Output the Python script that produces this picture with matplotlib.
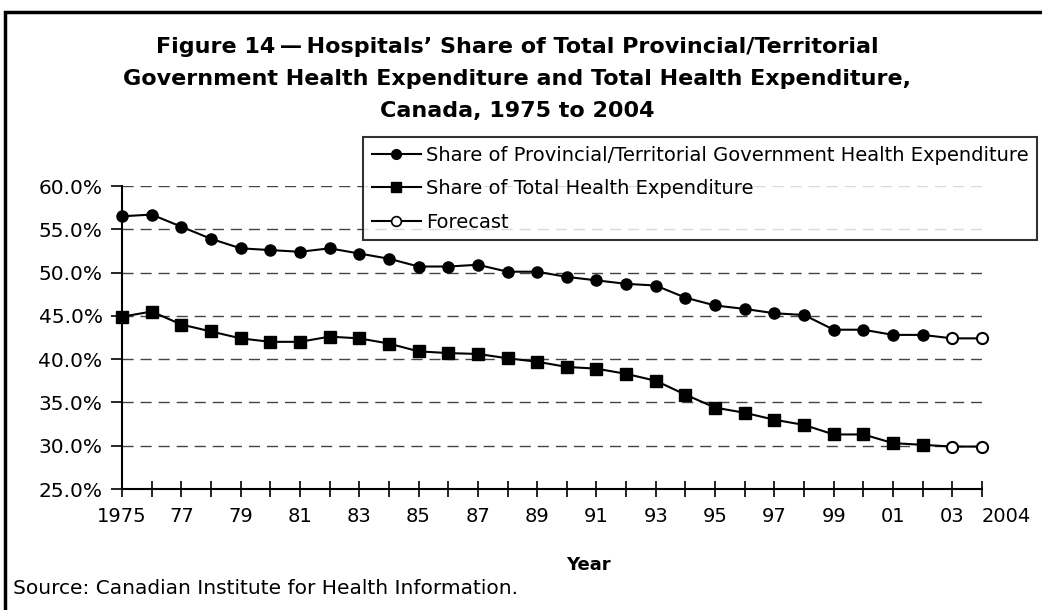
import numpy as np
import matplotlib
matplotlib.use("Agg")
import matplotlib.pyplot as plt
import matplotlib.transforms as mtransforms
from matplotlib.patches import Rectangle
from matplotlib.lines import Line2D
from matplotlib.ticker import FuncFormatter

plt.rcParams['font.family'] = ['DejaVu Sans']

years = list(range(1975, 2005))
provincial = [56.5, 56.7, 55.3, 53.9, 52.8, 52.6, 52.4, 52.8, 52.2, 51.6,
              50.7, 50.7, 50.9, 50.1, 50.1, 49.5, 49.1, 48.7, 48.5, 47.1,
              46.2, 45.8, 45.3, 45.1, 43.4, 43.4, 42.8, 42.8, 42.4, 42.4]
total = [44.9, 45.5, 44.0, 43.2, 42.4, 42.0, 42.0, 42.6, 42.4, 41.8,
         40.9, 40.7, 40.6, 40.1, 39.7, 39.1, 38.9, 38.3, 37.5, 35.9,
         34.4, 33.8, 33.0, 32.4, 31.3, 31.3, 30.3, 30.1, 29.9, 29.9]
forecast_years = [2003, 2004]

labels = ["Share of Provincial/Territorial Government Health Expenditure",
          "Share of Total Health Expenditure",
          "Forecast"]
title = ("Figure 14\u2009\u2014\u2009Hospitals\u2019 Share of Total Provincial/Territorial\n"
         "Government Health Expenditure and Total Health Expenditure,\n"
         "Canada, 1975 to 2004")

W, H = 1042, 610
fig = plt.figure(figsize=(W / 100, H / 100), dpi=100)
ax = fig.add_axes([122 / W, 1 - 489 / H, (982 - 122) / W, (489 - 186) / H])

n_hist = len(years) - len(forecast_years)
ax.plot(years, provincial, color='black', lw=1.5, zorder=3, clip_on=False)
ax.plot(years[:n_hist], provincial[:n_hist], 'o', color='black', ms=8, zorder=4, clip_on=False)
ax.plot(years[n_hist:], provincial[n_hist:], 'o', mfc='white', mec='black', mew=1.5, ms=8, zorder=4, clip_on=False)

ax.plot(years, total, color='black', lw=1.5, zorder=3, clip_on=False)
ax.plot(years[:n_hist], total[:n_hist], 's', color='black', ms=8, zorder=4, clip_on=False)
ax.plot(years[n_hist:], total[n_hist:], 'o', mfc='white', mec='black', mew=1.5, ms=8, zorder=4, clip_on=False)

ax.set_xlim(1975, 2004)
ax.set_ylim(25, 60)
ax.set_yticks(np.arange(25, 60.1, 5))
ax.yaxis.set_major_formatter(FuncFormatter(lambda v, p: f"{v:.1f}%"))
ax.set_xticks(years)
xlabels = []
for y in years:
    if y == 1975 or y == 2004:
        xlabels.append(str(y))
    elif y % 2 == 1:
        xlabels.append(f"{y % 100:02d}")
    else:
        xlabels.append("")
ax.set_xticklabels(xlabels)
# last label sits to the right of its tick, as in the original
last = ax.get_xticklabels()[-1]
last.set_horizontalalignment('left')
last.set_transform(last.get_transform() + mtransforms.ScaledTranslation(-5 / 100, 0, fig.dpi_scale_trans))

for s in ['top', 'right']:
    ax.spines[s].set_visible(False)
for s in ['left', 'bottom']:
    ax.spines[s].set_linewidth(1.5)
ax.tick_params(axis='y', direction='out', length=8, width=1.2, labelsize=14.5, pad=6)
ax.tick_params(axis='x', direction='inout', length=12, width=1.2, labelsize=14, pad=7)
ax.grid(axis='y', color='#444444', linestyle=(0, (8, 5)), lw=1)
ax.set_axisbelow(True)

fig.text(588 / W, 1 - 565 / H, "Year", ha='center', va='center', fontsize=13, fontweight='bold')
fig.text(13 / W, 1 - 588 / H, "Source: Canadian Institute for Health Information.",
         ha='left', va='center', fontsize=14.5)
fig.text(517 / W, 1 - 79 / H, title, ha='center', va='center', fontsize=16,
         fontweight='bold', linespacing=1.78)

handles = [
    Line2D([], [], color='black', lw=1.5, marker='o', ms=7),
    Line2D([], [], color='black', lw=1.5, marker='s', ms=7),
    Line2D([], [], color='black', lw=1.5, marker='o', ms=7, mfc='white', mew=1.2),
]
leg = fig.legend(handles, labels, loc='upper right', bbox_to_anchor=(1037 / W, 1 - 137 / H),
                 fontsize=14, frameon=True, fancybox=False, edgecolor='black',
                 handlelength=2.5, handletextpad=0.25, labelspacing=0.74,
                 borderpad=0.45, borderaxespad=0)
leg.get_frame().set_linewidth(1.5)

fig.add_artist(Rectangle((5 / W, -0.05), 1.1, 1 - 12 / H + 0.05, transform=fig.transFigure,
                         fill=False, edgecolor='black', lw=2.5))

fig.savefig("out.png", dpi=100)
